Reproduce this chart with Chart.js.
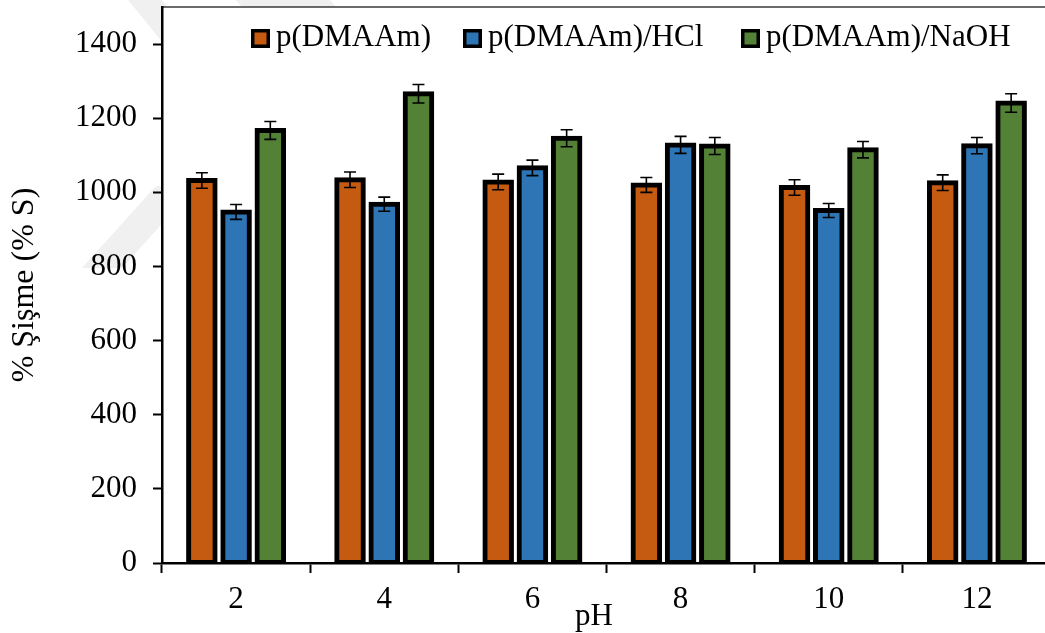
<!DOCTYPE html>
<html>
<head>
<meta charset="utf-8">
<script src="https://cdn.jsdelivr.net/npm/chart.js"></script>
<style>
  html, body { margin: 0; padding: 0; background: #fff; overflow: hidden; }
  #wrap { width: 1060px; height: 633px; position: relative; }
</style>
</head>
<body>
<div id="wrap"><canvas id="c"></canvas></div>
<script>
// pH values on the category axis
const categories = ['2', '4', '6', '8', '10', '12'];

// Series names
const seriesNames = ['p(DMAAm)', 'p(DMAAm)/HCl', 'p(DMAAm)/NaOH'];

// Swelling (%S) per pH
const swellPlain = [1032, 1034, 1028, 1020, 1013, 1026];
const swellHCl   = [947, 968, 1066, 1128, 951, 1126];
const swellNaOH  = [1167, 1266, 1146, 1125, 1115, 1241];

// Error bar half-widths (%S)
const errPlain = [21, 21, 21, 20, 21, 21];
const errHCl   = [20, 19, 21, 23, 19, 22];
const errNaOH  = [24, 25, 23, 23, 22, 25];

// Y axis tick labels
const yTicks = [0, 200, 400, 600, 800, 1000, 1200, 1400];

const seriesColors = ['#C55A11', '#2E75B6', '#538135'];
const FONT = '"Liberation Serif", "Times New Roman", serif';

Chart.defaults.font.family = FONT;
Chart.defaults.color = '#000';

// Page background, faint watermark outside the plot, white plot area
const backdrop = {
  id: 'backdrop',
  beforeDraw(chart) {
    const { ctx, chartArea: a } = chart;
    ctx.save();
    ctx.fillStyle = '#fff';
    ctx.fillRect(0, 0, chart.width, chart.height);
    ctx.fillStyle = '#f0f0f0';
    const polys = [
      [[128, 0], [162, 0], [252, 110], [218, 110]],
      [[82, 268], [122, 268], [196, 186], [156, 186]],
      [[236, 0], [330, 0], [340, 12], [246, 12]]
    ];
    polys.forEach(p => {
      ctx.beginPath();
      ctx.moveTo(p[0][0], p[0][1]);
      for (let i = 1; i < p.length; i++) ctx.lineTo(p[i][0], p[i][1]);
      ctx.closePath();
      ctx.fill();
    });
    ctx.fillStyle = '#fff';
    ctx.fillRect(a.left, a.top, a.right - a.left, a.bottom - a.top);
    // plot frame, top edge
    ctx.strokeStyle = '#3a3a3a';
    ctx.lineWidth = 1.5;
    ctx.beginPath();
    ctx.moveTo(a.left, a.top);
    ctx.lineTo(a.right, a.top);
    ctx.stroke();
    ctx.restore();
  }
};

// Vertical error bars with caps
const errorBars = {
  id: 'errorBars',
  afterDatasetsDraw(chart) {
    const { ctx } = chart;
    const y = chart.scales.y;
    ctx.save();
    ctx.strokeStyle = '#000';
    ctx.lineWidth = 1.6;
    chart.data.datasets.forEach((ds, i) => {
      const meta = chart.getDatasetMeta(i);
      meta.data.forEach((bar, j) => {
        const v = ds.data[j], e = ds.errors[j];
        const yHi = y.getPixelForValue(v + e);
        const yLo = y.getPixelForValue(v - e);
        const x = bar.x, cap = 6;
        ctx.beginPath();
        ctx.moveTo(x, yHi); ctx.lineTo(x, yLo);
        ctx.moveTo(x - cap, yHi); ctx.lineTo(x + cap, yHi);
        ctx.moveTo(x - cap, yLo); ctx.lineTo(x + cap, yLo);
        ctx.stroke();
      });
    });
    ctx.restore();
  }
};

// Legend row inside the plot and the pH axis title
const legendAndTitle = {
  id: 'legendAndTitle',
  afterDraw(chart) {
    const { ctx } = chart;
    ctx.save();
    const boxX = [251, 463, 741];
    chart.data.datasets.forEach((ds, i) => {
      const bx = boxX[i], by = 29, s = 19;
      ctx.fillStyle = '#000';
      ctx.fillRect(bx, by, s, s);
      ctx.fillStyle = ds.backgroundColor;
      ctx.fillRect(bx + 3.5, by + 3.5, s - 7, s - 7);
      ctx.fillStyle = '#000';
      ctx.font = '31px ' + FONT;
      ctx.textBaseline = 'alphabetic';
      ctx.textAlign = 'left';
      ctx.fillText(ds.label, bx + 25, 46);
    });
    ctx.font = '31px ' + FONT;
    ctx.textAlign = 'center';
    ctx.textBaseline = 'alphabetic';
    ctx.fillText('pH', 594, 625);
    ctx.restore();
  }
};

const makeSet = (label, data, errors, color) => ({
  label, data, errors,
  backgroundColor: color,
  borderColor: '#000',
  borderWidth: 5,
  borderSkipped: false,
  inflateAmount: 2.5,
  barPercentage: 0.775,
  categoryPercentage: 0.693
});

new Chart(document.getElementById('c'), {
  type: 'bar',
  data: {
    labels: categories,
    datasets: [
      makeSet(seriesNames[0], swellPlain, errPlain, seriesColors[0]),
      makeSet(seriesNames[1], swellHCl, errHCl, seriesColors[1]),
      makeSet(seriesNames[2], swellNaOH, errNaOH, seriesColors[2])
    ]
  },
  options: {
    responsive: true,
    maintainAspectRatio: false,
    animation: false,
    layout: { padding: { top: 7, right: 9, left: 0, bottom: 0 } },
    plugins: {
      legend: { display: false },
      tooltip: { enabled: false }
    },
    scales: {
      x: {
        grid: {
          display: true, drawOnChartArea: false, drawTicks: true,
          tickLength: 10, tickColor: '#000', tickWidth: 2, offset: true
        },
        border: { display: true, color: '#000', width: 2.5 },
        ticks: { font: { size: 31 }, color: '#000', padding: 8, maxRotation: 0 },
        afterFit(scale) {
          scale.height = 70;
          scale.paddingLeft = 0;
          scale.paddingRight = 0;
        }
      },
      y: {
        min: 0,
        max: 1500,
        grid: {
          display: true, drawOnChartArea: false, drawTicks: true,
          tickLength: 9, tickColor: '#000', tickWidth: 2
        },
        border: { display: true, color: '#000', width: 2.5 },
        ticks: {
          stepSize: 200, font: { size: 31 }, color: '#000', padding: 16,
          callback: v => String(v)
        },
        afterBuildTicks(scale) {
          scale.ticks = yTicks.map(v => ({ value: v }));
        },
        title: {
          display: true,
          text: '% Şişme (% S)',
          font: { size: 32 },
          color: '#000',
          padding: { top: 5, bottom: 0 }
        },
        afterFit(scale) {
          scale.width = 162;
          scale.paddingTop = 0;
          scale.paddingBottom = 0;
        }
      }
    }
  },
  plugins: [backdrop, errorBars, legendAndTitle]
});
</script>
</body>
</html>
